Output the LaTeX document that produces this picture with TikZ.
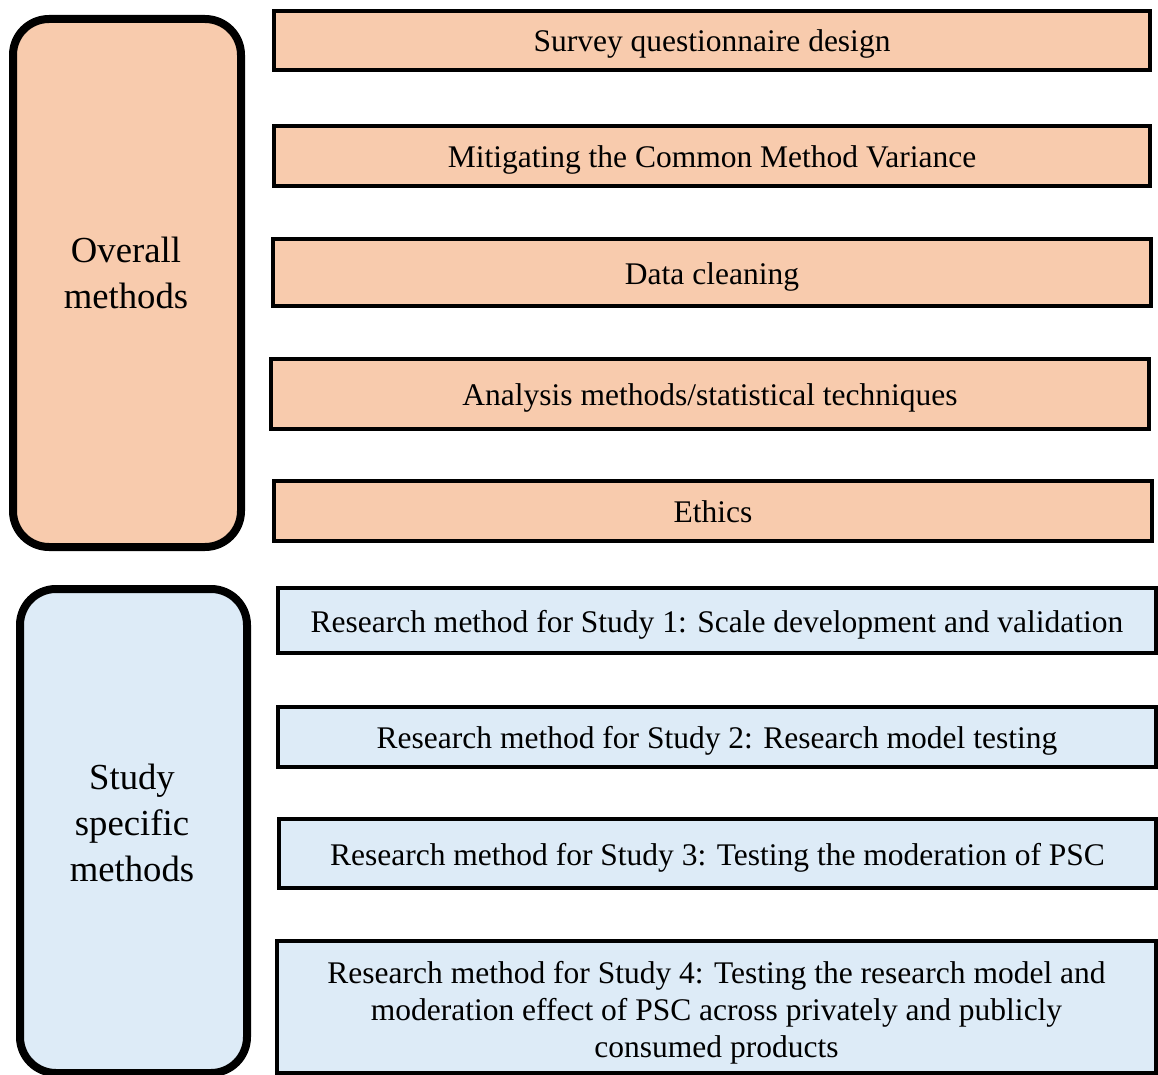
\documentclass[tikz,border=0pt]{standalone}
\usepackage{fontspec}
\setmainfont{Liberation Serif}
\begin{document}
\begin{tikzpicture}[x=1pt,y=-1pt,
  peach/.style={fill=peachfill},
  sky/.style={fill=skyfill},
  itemfont/.style={align=center, font=\fontsize{31.5}{37}\selectfont},
  itembox/.style={draw=black, line width=4pt, rectangle, inner sep=0pt,
    text height=29pt, text depth=6pt, itemfont},
  groupbox/.style={draw=black, line width=8pt, rectangle, rounded corners=36pt, inner sep=0pt},
  grouplabel/.style={align=center, font=\fontsize{36.7}{46}\selectfont}]
\definecolor{peachfill}{HTML}{F8CBAD}
\definecolor{skyfill}{HTML}{DDEBF7}
\useasboundingbox (0,0) rectangle (1158,1075);

% Overall methods group
\node[groupbox, peach, minimum width=228pt, minimum height=528pt] (overall) at (127,283) {};
\node[grouplabel] (overalltxt) at (126,273) {Overall\\methods};

\node[itembox, peach, minimum width=876pt, minimum height=59pt] (survey) at (712,40.5) {Survey questionnaire design};
\node[itembox, peach, minimum width=876pt, minimum height=60pt] (cmv) at (712,156) {Mitigating the Common Method Variance};
\node[itembox, peach, minimum width=878pt, minimum height=67pt] (clean) at (712,272.5) {Data cleaning};
\node[itembox, peach, minimum width=878pt, minimum height=70pt] (analysis) at (710,394) {Analysis methods/statistical techniques};
\node[itembox, peach, minimum width=878pt, minimum height=60pt] (ethics) at (713,511) {Ethics};

% Study specific methods group
\node[groupbox, sky, minimum width=227pt, minimum height=484pt] (specific) at (133.5,831) {};
\node[grouplabel] (specifictxt) at (132,823) {Study\\specific\\methods};

\node[itembox, sky, minimum width=878pt, minimum height=65pt] (study1) at (717,620.5) {Research method for Study 1: Scale development and validation};
\node[itembox, sky, minimum width=878pt, minimum height=60pt] (study2) at (717,737) {Research method for Study 2: Research model testing};
\node[itembox, sky, minimum width=877pt, minimum height=69pt] (study3) at (717.5,853.5) {Research method for Study 3: Testing the moderation of PSC};
\node[draw=black, line width=4pt, rectangle, inner sep=0pt, sky,
  minimum width=879pt, minimum height=132pt] (study4) at (716.5,1007) {};
\node[itemfont, inner sep=0pt] (study4txt) at (716.5,1012.5) {Research method for Study 4: Testing the research model and\\moderation effect of PSC across privately and publicly\\consumed products};
\end{tikzpicture}
\end{document}
